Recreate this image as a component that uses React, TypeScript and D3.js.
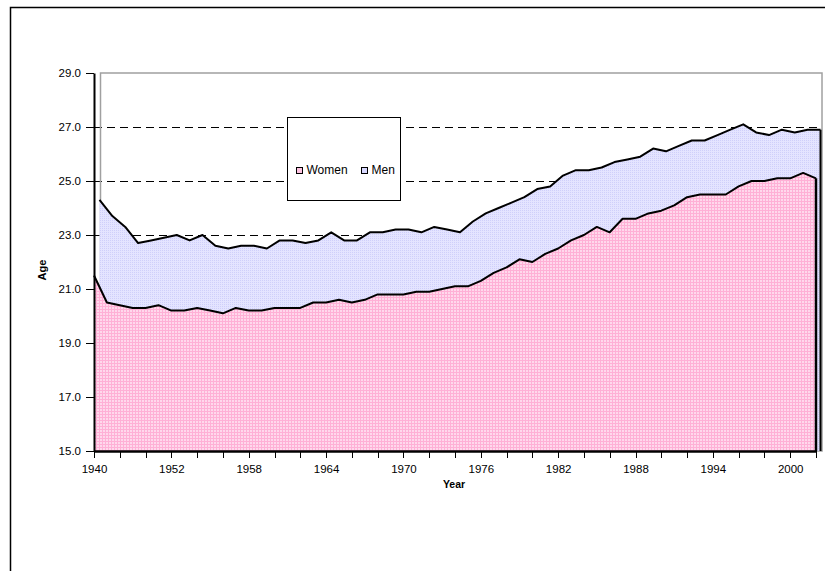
import * as d3 from "d3";
import { useEffect, useRef } from "react";

const years = [
    "1940", "1947", "1948", "1949", "1950", "1951", "1952", "1953", "1954", "1955",
    "1956", "1957", "1958", "1959", "1960", "1961", "1962", "1963", "1964", "1965",
    "1966", "1967", "1968", "1969", "1970", "1971", "1972", "1973", "1974", "1975",
    "1976", "1977", "1978", "1979", "1980", "1981", "1982", "1983", "1984", "1985",
    "1986", "1987", "1988", "1989", "1990", "1991", "1992", "1993", "1994", "1995",
    "1996", "1997", "1998", "1999", "2000", "2001", "2002",
];

const women = [
    21.5, 20.5, 20.4, 20.3, 20.3, 20.4, 20.2, 20.2, 20.3, 20.2,
    20.1, 20.3, 20.2, 20.2, 20.3, 20.3, 20.3, 20.5, 20.5, 20.6,
    20.5, 20.6, 20.8, 20.8, 20.8, 20.9, 20.9, 21.0, 21.1, 21.1,
    21.3, 21.6, 21.8, 22.1, 22.0, 22.3, 22.5, 22.8, 23.0, 23.3,
    23.1, 23.6, 23.6, 23.8, 23.9, 24.1, 24.4, 24.5, 24.5, 24.5,
    24.8, 25.0, 25.0, 25.1, 25.1, 25.3, 25.1,
];

const men = [
    24.3, 23.7, 23.3, 22.7, 22.8, 22.9, 23.0, 22.8, 23.0, 22.6,
    22.5, 22.6, 22.6, 22.5, 22.8, 22.8, 22.7, 22.8, 23.1, 22.8,
    22.8, 23.1, 23.1, 23.2, 23.2, 23.1, 23.3, 23.2, 23.1, 23.5,
    23.8, 24.0, 24.2, 24.4, 24.7, 24.8, 25.2, 25.4, 25.4, 25.5,
    25.7, 25.8, 25.9, 26.2, 26.1, 26.3, 26.5, 26.5, 26.7, 26.9,
    27.1, 26.8, 26.7, 26.9, 26.8, 26.9, 26.9,
];

const yTicks = [15, 17, 19, 21, 23, 25, 27, 29];
const yGrid = [17, 19, 21, 23, 25, 27];
const seriesNames = ["Women", "Men"];

export default function App() {
    const ref = useRef<SVGSVGElement | null>(null);

    useEffect(() => {
        if (!ref.current) return;
        const svg = d3.select(ref.current);
        svg.selectAll("*").remove();

        const font = "'Liberation Sans', Arial, sans-serif";

        // two overlaid plots, the men one sits a few px to the right
        const xW = d3.scalePoint<string>().domain(years).range([94, 816]);
        const xM = d3.scalePoint<string>().domain(years).range([99.5, 820.5]);
        const y = d3.scaleLinear().domain([15, 29]).range([451, 73]);

        // fill patterns
        const defs = svg.append("defs");
        const pw = defs.append("pattern").attr("id", "womenFill")
            .attr("patternUnits", "userSpaceOnUse").attr("width", 3).attr("height", 3);
        pw.append("rect").attr("width", 3).attr("height", 3).attr("fill", "#ffd8ec");
        pw.append("rect").attr("width", 3).attr("height", 1).attr("fill", "#ffb0d6");
        pw.append("rect").attr("width", 1).attr("height", 3).attr("fill", "#ffb0d6");

        const pm = defs.append("pattern").attr("id", "menFill")
            .attr("patternUnits", "userSpaceOnUse").attr("width", 2).attr("height", 2);
        pm.append("rect").attr("width", 2).attr("height", 2).attr("fill", "#e4e4ff");
        pm.append("rect").attr("width", 1).attr("height", 1).attr("fill", "#cfcffa");

        // outer frame
        svg.append("rect")
            .attr("x", 10.5).attr("y", 7.5).attr("width", 840).attr("height", 600)
            .attr("fill", "#fff").attr("stroke", "#000").attr("stroke-width", 1.5);

        // gridlines
        svg.append("g")
            .selectAll("line")
            .data(yGrid)
            .join("line")
            .attr("x1", 94).attr("x2", 821)
            .attr("y1", (d) => Math.round(y(d)) + 0.5).attr("y2", (d) => Math.round(y(d)) + 0.5)
            .attr("stroke", "#000").attr("stroke-width", 1)
            .attr("stroke-dasharray", "8,5")
            .attr("shape-rendering", "crispEdges");

        // plot area border (gray)
        svg.append("rect")
            .attr("x", 100.5).attr("y", y(29))
            .attr("width", 822 - 100.5).attr("height", y(15) - y(29))
            .attr("fill", "none").attr("stroke", "#a0a0a0").attr("stroke-width", 1.5);

        // Men area
        const areaM = d3.area<number>()
            .x((_, i) => xM(years[i])!)
            .y0(y(15))
            .y1((d) => y(d));
        svg.append("path").datum(men).attr("d", areaM).attr("fill", "url(#menFill)");
        const lineM = d3.line<number>().x((_, i) => xM(years[i])!).y((d) => y(d));
        svg.append("path").datum(men).attr("d", lineM)
            .attr("fill", "none").attr("stroke", "#000").attr("stroke-width", 2)
            .attr("stroke-linejoin", "round");
        svg.append("line")
            .attr("x1", xM(years[years.length - 1])!).attr("x2", xM(years[years.length - 1])!)
            .attr("y1", y(men[men.length - 1])).attr("y2", y(15))
            .attr("stroke", "#000").attr("stroke-width", 2);

        // Women area
        const areaW = d3.area<number>()
            .x((_, i) => xW(years[i])!)
            .y0(y(15))
            .y1((d) => y(d));
        svg.append("path").datum(women).attr("d", areaW).attr("fill", "url(#womenFill)");
        const lineW = d3.line<number>().x((_, i) => xW(years[i])!).y((d) => y(d));
        svg.append("path").datum(women).attr("d", lineW)
            .attr("fill", "none").attr("stroke", "#000").attr("stroke-width", 2)
            .attr("stroke-linejoin", "round");
        svg.append("line")
            .attr("x1", xW(years[years.length - 1])!).attr("x2", xW(years[years.length - 1])!)
            .attr("y1", y(women[women.length - 1])).attr("y2", y(15))
            .attr("stroke", "#000").attr("stroke-width", 2.5);

        // Axes
        const yAxis = svg.append("g")
            .attr("transform", `translate(94,0)`)
            .call(d3.axisLeft(y).tickValues(yTicks).tickFormat(d3.format(".1f"))
                .tickSize(8).tickSizeOuter(0).tickPadding(5));
        yAxis.select(".domain").attr("stroke-width", 2);
        yAxis.selectAll(".tick line").attr("stroke-width", 1).attr("shape-rendering", "crispEdges");
        yAxis.attr("font-family", font).attr("font-size", 11.5);
        yAxis.selectAll(".tick text").attr("fill", "#000");

        const xAxis = svg.append("g")
            .attr("transform", `translate(0,${y(15)})`)
            .call(d3.axisBottom(xW)
                .tickValues(years.filter((_, i) => i % 2 === 0))
                .tickFormat((d) => (years.indexOf(d) % 6 === 0 ? d : ""))
                .tickSize(7).tickSizeOuter(0).tickPadding(7));
        xAxis.select(".domain").attr("stroke-width", 2.5);
        xAxis.selectAll(".tick line").attr("stroke-width", 1).attr("shape-rendering", "crispEdges");
        xAxis.attr("font-family", font).attr("font-size", 11.5);
        xAxis.selectAll(".tick text").attr("fill", "#000");

        // Axis titles
        svg.append("text")
            .attr("x", 454).attr("y", 488)
            .attr("text-anchor", "middle")
            .attr("font-family", font).attr("font-size", 10.5).attr("font-weight", "bold")
            .text("Year");
        svg.append("text")
            .attr("transform", `translate(46,270) rotate(-90)`)
            .attr("text-anchor", "middle")
            .attr("font-family", font).attr("font-size", 11).attr("font-weight", "bold")
            .text("Age");

        // Legend
        const lg = svg.append("g");
        lg.append("rect")
            .attr("x", 287.5).attr("y", 117.5).attr("width", 113).attr("height", 83)
            .attr("fill", "#fff").attr("stroke", "#000").attr("stroke-width", 1);
        const items = lg.selectAll("g.item")
            .data(seriesNames)
            .join("g")
            .attr("class", "item")
            .attr("transform", (_, i) => `translate(${i === 0 ? 296.5 : 361.5},167.5)`);
        items.append("rect")
            .attr("width", 6).attr("height", 6)
            .attr("fill", (_, i) => (i === 0 ? "#ffc4e2" : "#d8d8ff"))
            .attr("stroke", "#000").attr("stroke-width", 1);
        items.append("text")
            .attr("x", 10).attr("y", 6.5)
            .attr("font-family", font).attr("font-size", 12)
            .text((d) => d);
    }, []);

    return (
        <svg
            ref={ref}
            width={825}
            height={571}
            style={{ position: "absolute", left: 0, top: 0 }}
        ></svg>
    );
}
